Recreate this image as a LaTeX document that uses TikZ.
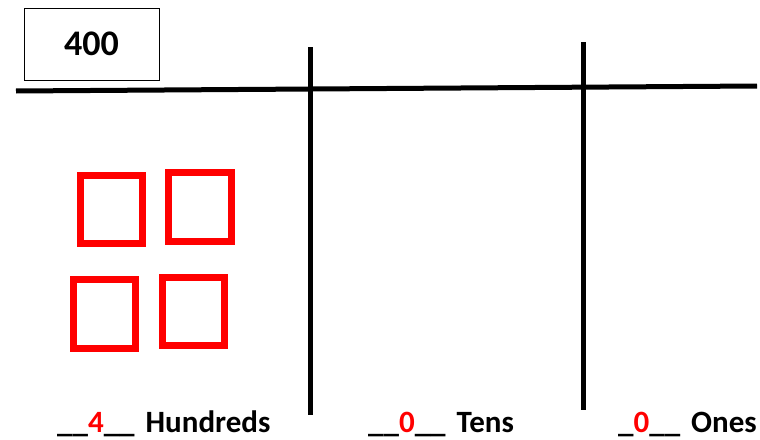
\documentclass[tikz,border=0pt]{standalone}
\usepackage{fontspec}
\setmainfont{Carlito}
\usepackage{xcolor}
\usetikzlibrary{positioning}

\begin{document}
\begin{tikzpicture}[x=1pt,y=-1pt,
  rule/.style={line width=5pt,black},
  block/.style={draw=red,line width=7pt},
  numbox/.style={draw=black,line width=1pt,minimum width=135pt,minimum height=72pt,font=\bfseries\fontsize{36}{40}\selectfont},
  lab/.style={anchor=base west,inner sep=0pt,font=\bfseries\fontsize{31}{34}\selectfont}]
\useasboundingbox (0,0) rectangle (760,439);
\node[numbox] (num) at (91.5,44) {400};
% the chart lines
\coordinate (hl) at (16,91);
\coordinate (hr) at (757,86);
\coordinate (v1t) at (310,47);
\coordinate (v1b) at (310,415);
\coordinate (v2t) at (583,42);
\coordinate (v2b) at (583,410);
\draw[rule] (hl) -- (hr);
\draw[rule] (v1t) -- (v1b);
\draw[rule] (v2t) -- (v2b);
% four hundreds blocks
\draw[block] (80.5,175.5) rectangle (142.5,243.5);
\draw[block] (168.5,172.5) rectangle (231.5,241.5);
\draw[block] (73.5,279.5) rectangle (135.5,348.5);
\draw[block] (162.5,277.5) rectangle (224.5,345.5);
% place value labels
\node[lab] (hund) at (57,432) {\_\_\textcolor{red}{4}\_\_\hspace{4pt} Hundreds};
\node[lab] (tens) at (368,432) {\_\_\textcolor{red}{0}\_\_\hspace{4pt} Tens};
\node[lab] (ones) at (618,432) {\_\textcolor{red}{0}\_\_\hspace{4pt} Ones};
\end{tikzpicture}
\end{document}
